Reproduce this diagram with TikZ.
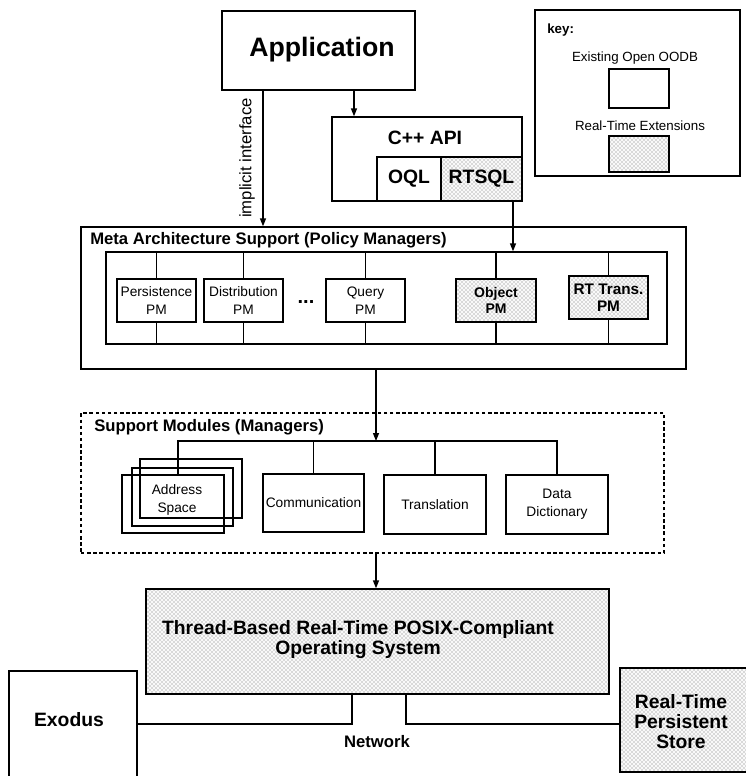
\documentclass[tikz,border=0pt]{standalone}
\usepackage{fontspec}
\setmainfont{Liberation Sans}
\usetikzlibrary{arrows.meta,patterns,fit}
\begin{document}
\begin{tikzpicture}[x=0.75pt,y=-0.75pt,
  box/.style={draw, line width=1pt, inner sep=0pt},
  rtbox/.style={box, preaction={fill=gray!5}, pattern=crosshatch dots, pattern color=black!55},
  txt/.style={inner sep=0pt, align=center},
  ln/.style={line width=1pt},
  arr/.style={line width=1pt, -{Triangle[length=6pt,width=4.5pt]}},
  net/.style={line width=1.7pt},
  fbig/.style={font=\fontsize{20}{24}\selectfont\bfseries},
  fhb/.style={font=\fontsize{14.5}{15}\selectfont\bfseries},
  fmb/.style={font=\fontsize{12.5}{15}\selectfont\bfseries},
  fmr/.style={font=\fontsize{12.5}{15}\selectfont},
  fsm/.style={font=\fontsize{10.3}{13.5}\selectfont},
  fsb/.style={font=\fontsize{10.5}{12}\selectfont\bfseries},
  fkey/.style={font=\fontsize{10}{12}\selectfont}
]
\clip (0,0) rectangle (746,776);
\fill[white] (0,0) rectangle (746,776);

% Application
\node[box, fit={(222,11) (415,90)}] (app) {};
\node[txt, fbig] (apptxt) at (322,50) {Application};

% key
\node[box, fit={(535,10) (740,176)}] (key) {};
\node[txt, fkey, font=\bfseries, anchor=west] (keytxt) at (547,30) {key:};
\node[txt, fkey] (keyexist) at (635,58) {Existing Open OODB};
\node[box, fit={(609,69) (669,108)}] (keyw) {};
\node[txt, fkey] (keyrt) at (640,126) {Real-Time Extensions};
\node[rtbox, fit={(609,136) (669,172)}] (keyr) {};

% C++ API
\node[box, fit={(332,117) (522,201)}] (api) {};
\node[txt, fhb] (apitxt) at (425,138) {C++ API};
\node[box, fit={(377,157) (441,201)}] (oql) {};
\node[txt, fhb] (oqltxt) at (oql.center) {OQL};
\node[rtbox, fit={(441,157) (522,201)}] (rtsql) {};
\node[txt, fhb] (rtsqltxt) at (rtsql.center) {RTSQL};

% Meta architecture
\node[box, fit={(81,227) (686,369)}] (meta) {};
\node[txt, fmb, anchor=west] (metatxt) at (90,240) {Meta Architecture Support (Policy Managers)};
\node[box, fit={(106,252) (667,344)}] (inner) {};
\node[box, fit={(117,279) (196,322)}] (pm1) {};
\node[txt, fsm] (pm1t) at (pm1.center) {Persistence\\PM};
\node[box, fit={(204,279) (283,322)}] (pm2) {};
\node[txt, fsm] (pm2t) at (pm2.center) {Distribution\\PM};
\node[txt, font=\fontsize{15}{15}\selectfont\bfseries, anchor=base] (pmdots) at (306,303) {...};
\node[box, fit={(326,279) (405,322)}] (pm3) {};
\node[txt, fsm] (pm3t) at (pm3.center) {Query\\PM};
\node[rtbox, fit={(456,279) (536,322)}] (pm4) {};
\node[txt, fsb] (pm4t) at (pm4.center) {Object\\PM};
\node[rtbox, fit={(569,276) (648,319)}] (pm5) {};
\node[txt, font=\fontsize{11.5}{12.5}\selectfont\bfseries] (pm5t) at (pm5.center) {RT Trans.\\PM};
\foreach \p in {pm1,pm2,pm3,pm4,pm5}{
  \draw[ln] (\p.north) -- (\p.north |- inner.north);
  \draw[ln] (\p.south) -- (\p.south |- inner.south);
}

% Support modules
\node[box, dash pattern=on 2.6pt off 2pt, fit={(81,413) (664,553)}] (sup) {};
\node[txt, fmb, anchor=west] (suptxt) at (94,427) {Support Modules (Managers)};
\node[box, fit={(140,459) (242,518)}] (addrB) {};
\node[box, fit={(132,468) (233,526)}] (addrM) {};
\node[box, fit={(122,475) (224,533)}] (addrF) {};
\node[txt, fsm] (addrtxt) at (177,500) {Address\\Space};
\node[box, fit={(263,474) (364,532)}] (comm) {};
\node[txt, fsm] (commt) at (comm.center) {Communication};
\node[box, fit={(384,475) (486,534)}] (trans) {};
\node[txt, fsm] (transt) at (trans.center) {Translation};
\node[box, fit={(506,475) (608,534)}] (dd) {};
\node[txt, fsm] (ddt) at (dd.center) {Data\\Dictionary};
\coordinate (busm) at (376,441);
\coordinate (addrtop) at (178,475);
\draw[ln] (addrtop) -- (addrtop |- busm) -| (dd.north);
\draw[ln] (comm.north) -- (comm.north |- busm);
\draw[ln] (trans.north) -- (trans.north |- busm);

% OS
\node[rtbox, fit={(146,589) (609,694)}] (os) {};
\node[txt, fhb] (ostxt) at (358,640) {Thread-Based Real-Time POSIX-Compliant\\Operating System};

% Exodus and store
\node[box, fit={(9,671) (137,800)}] (exo) {};
\node[txt, fhb] (exotxt) at (69,720) {Exodus};
\node[rtbox, fit={(620,668) (770,772)}] (store) {};
\node[txt, fhb] (storetxt) at (681,722) {Real-Time\\Persistent\\Store};
\node[txt, fmb] (nettxt) at (377,742) {Network};

% connectors
\draw[arr] (app.south -| 263,0) -- (meta.north -| 263,0);
\node[txt, fmr, rotate=90] (impl) at (247,158) {implicit interface};
\draw[arr] (app.south -| 354,0) -- (api.north -| 354,0);
\draw[arr] (rtsql.south -| 513,0) -- (inner.north -| 513,0);
\draw[arr] (meta.south -| busm) -- (busm);
\draw[arr] (sup.south -| busm) -- (os.north -| busm);
\draw[net] (os.south -| 352,0) |- (exo.east |- 0,724);
\draw[net] (os.south -| 406,0) |- (store.west |- 0,724);
\end{tikzpicture}
\end{document}
